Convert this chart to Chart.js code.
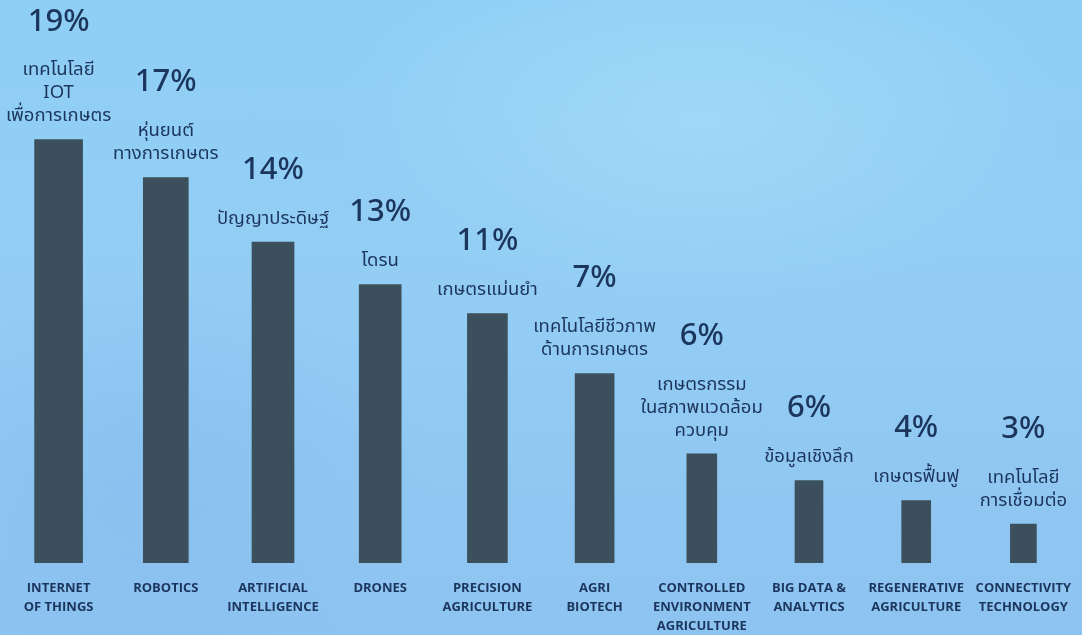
<!DOCTYPE html>
<html>
<head>
<meta charset="utf-8">
<script src="https://cdn.jsdelivr.net/npm/chart.js@4.4.1/dist/chart.umd.min.js"></script>
<style>
  html, body { margin: 0; padding: 0; }
  body {
    width: 1082px; height: 635px; overflow: hidden;
    background:
      radial-gradient(ellipse 520px 260px at 700px 120px, rgba(170,225,250,0.55), rgba(170,225,250,0) 70%),
      radial-gradient(ellipse 400px 300px at 150px 480px, rgba(125,180,235,0.35), rgba(125,180,235,0) 70%),
      linear-gradient(180deg, #8fcff5 0%, #93cdf4 45%, #8dc3f0 100%);
  }
  canvas { display: block; }
</style>
</head>
<body>
<canvas id="c" width="1082" height="635"></canvas>
<script>
// ---- data ----
const categories = [
  ["INTERNET", "OF THINGS"],
  ["ROBOTICS"],
  ["ARTIFICIAL", "INTELLIGENCE"],
  ["DRONES"],
  ["PRECISION", "AGRICULTURE"],
  ["AGRI", "BIOTECH"],
  ["CONTROLLED", "ENVIRONMENT", "AGRICULTURE"],
  ["BIG DATA &", "ANALYTICS"],
  ["REGENERATIVE", "AGRICULTURE"],
  ["CONNECTIVITY", "TECHNOLOGY"]
];
const thaiLabels = [
  ["เทคโนโลยี", "IOT", "เพื่อการเกษตร"],
  ["หุ่นยนต์", "ทางการเกษตร"],
  ["ปัญญาประดิษฐ์"],
  ["โดรน"],
  ["เกษตรแม่นยำ"],
  ["เทคโนโลยีชีวภาพ", "ด้านการเกษตร"],
  ["เกษตรกรรม", "ในสภาพแวดล้อม", "ควบคุม"],
  ["ข้อมูลเชิงลึก"],
  ["เกษตรฟื้นฟู"],
  ["เทคโนโลยี", "การเชื่อมต่อ"]
];
const percentLabels = ["19%", "17%", "14%", "13%", "11%", "7%", "6%", "6%", "4%", "3%"];
const barValues = [19.0, 17.3, 14.4, 12.5, 11.2, 8.5, 4.9, 3.7, 2.8, 1.75];

// ---- styles ----
const barWidths = [48, 45, 42, 42, 40, 39, 30, 28, 29, 26];
const barColor = "#3b505c";
const navy = "#1c355c";

const datasets = barValues.map((v, i) => ({
  data: barValues.map((_, j) => (j === i ? v : null)),
  backgroundColor: barColor,
  barThickness: barWidths[i],
  grouped: false,
  borderWidth: 0
}));

const labelPlugin = {
  id: "labelPlugin",
  afterDatasetsDraw(chart) {
    const ctx = chart.ctx;
    ctx.save();
    ctx.textAlign = "center";
    ctx.textBaseline = "middle";
    datasets.forEach((ds, i) => {
      const el = chart.getDatasetMeta(i).data[i];
      if (!el) return;
      const x = el.x, top = el.y;
      const lines = thaiLabels[i];
      const n = lines.length;
      const lh = 23;
      ctx.fillStyle = navy;
      ctx.font = '400 18.5px "Noto Sans Thai", "Noto Sans", "DejaVu Sans", sans-serif';
      lines.forEach((t, k) => {
        ctx.fillText(t, x, top - 22 - (n - 1 - k) * lh);
      });
      const firstY = top - 22 - (n - 1) * lh;
      ctx.font = '500 31px "Noto Sans", "Open Sans", sans-serif';
      ctx.fillText(percentLabels[i], x, firstY - 50);
    });
    ctx.restore();
  }
};

new Chart(document.getElementById("c"), {
  type: "bar",
  data: { labels: categories, datasets },
  options: {
    responsive: false,
    animation: false,
    layout: { padding: { top: 6, left: 5, right: 5, bottom: 0 } },
    plugins: { legend: { display: false }, tooltip: { enabled: false } },
    scales: {
      x: {
        grid: { display: false },
        border: { display: false },
        ticks: {
          color: navy,
          font: { family: '"Open Sans", "Noto Sans", sans-serif', weight: "bold", size: 13, lineHeight: 1.45 },
          padding: 8,
          maxRotation: 0,
          minRotation: 0,
          autoSkip: false
        },
        afterFit(scale) { scale.height = 72; }
      },
      y: {
        display: false,
        min: 0,
        max: 25
      }
    }
  },
  plugins: [labelPlugin]
});
</script>
</body>
</html>
